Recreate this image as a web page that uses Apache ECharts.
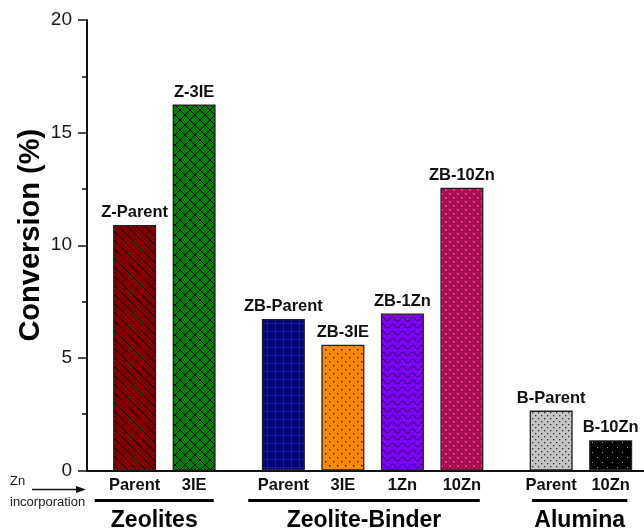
<!DOCTYPE html>
<html>
<head>
<meta charset="utf-8">
<script src="https://cdn.jsdelivr.net/npm/echarts@6/dist/echarts.min.js"></script>
<style>
  html, body { margin: 0; padding: 0; background: #fff; }
  #chart { width: 644px; height: 529px; }
</style>
</head>
<body>
<div id="chart"></div>
<script>
// data
var groups = ['Zeolites', 'Zeolite-Binder', 'Alumina'];
var categories = ['Parent', '3IE', 'Parent', '3IE', '1Zn', '10Zn', 'Parent', '10Zn'];
var barNames = ['Z-Parent', 'Z-3IE', 'ZB-Parent', 'ZB-3IE', 'ZB-1Zn', 'ZB-10Zn', 'B-Parent', 'B-10Zn'];
var conversion = [10.9, 16.25, 6.73, 5.58, 6.97, 12.55, 2.66, 1.34];
var yTicks = [0, 5, 10, 15, 20];

// layout: slot position of each bar and span of each group underline
var slots = [1, 2, 3.5, 4.5, 5.5, 6.5, 8, 9];
var groupSpan = [[0.33, 2.33], [2.91, 6.8], [7.68, 9.28]];

var FONT = 'Liberation Sans, Arial, sans-serif';

// canvas patterns for the bar fills
function makePattern(w, h, bg, draw) {
	var c = document.createElement('canvas');
	c.width = w; c.height = h;
	var ctx = c.getContext('2d');
	ctx.fillStyle = bg;
	ctx.fillRect(0, 0, w, h);
	draw(ctx, w, h);
	return { image: c, repeat: 'repeat' };
}
function dots(ctx, pts, col, r) {
	ctx.fillStyle = col;
	pts.forEach(function (p) { ctx.fillRect(p[0], p[1], r, r); });
}

var patterns = [
	// diagonal hatch
	makePattern(9, 9, '#800000', function (ctx, w, h) {
		ctx.strokeStyle = '#000'; ctx.lineWidth = 1;
		ctx.beginPath();
		ctx.moveTo(-1, -1); ctx.lineTo(w + 1, h + 1);
		ctx.moveTo(-1, h - 1); ctx.lineTo(1, h + 1);
		ctx.moveTo(w - 1, -1); ctx.lineTo(w + 1, 1);
		ctx.stroke();
	}),
	// cross hatch
	makePattern(10, 10, '#008000', function (ctx, w, h) {
		ctx.strokeStyle = '#000'; ctx.lineWidth = 1;
		ctx.beginPath();
		ctx.moveTo(0, 0); ctx.lineTo(w, h);
		ctx.moveTo(w, 0); ctx.lineTo(0, h);
		ctx.stroke();
	}),
	// fine blue grid
	makePattern(8, 8, '#00006a', function (ctx, w, h) {
		ctx.fillStyle = '#0c0c90';
		for (var i = 0; i < w; i += 2) for (var j = 0; j < h; j += 2) if ((i + j) % 4 === 0) ctx.fillRect(i, j, 1, 1);
		ctx.fillStyle = '#1616b8';
		ctx.fillRect(0, 3, w, 1);
		ctx.fillRect(3, 0, 1, h);
	}),
	// orange dots
	makePattern(8, 8, '#ff8a00', function (ctx) {
		dots(ctx, [[1, 1], [5, 5]], '#3a2000', 1.5);
	}),
	// purple waves
	makePattern(10, 7, '#8000ff', function (ctx, w) {
		ctx.strokeStyle = '#3c0070'; ctx.lineWidth = 1.2;
		ctx.beginPath();
		ctx.moveTo(0, 4);
		ctx.quadraticCurveTo(w / 4, 0, w / 2, 4);
		ctx.quadraticCurveTo(3 * w / 4, 8, w, 4);
		ctx.stroke();
	}),
	// crimson check with pink dots
	makePattern(8, 8, '#9c104c', function (ctx, w, h) {
		ctx.fillStyle = '#c8206a';
		for (var i = 0; i < w; i += 2) for (var j = 0; j < h; j += 2) if ((i + j) % 4 === 0) ctx.fillRect(i, j, 1, 1);
		dots(ctx, [[1, 1], [5, 5]], '#ff2a8e', 2);
	}),
	// grey dots
	makePattern(6, 6, '#c4c4c4', function (ctx) {
		dots(ctx, [[1, 1], [4, 4]], '#303030', 1.3);
	}),
	// black with sparse dots
	makePattern(10, 10, '#000', function (ctx) {
		dots(ctx, [[2, 2], [7, 7]], '#9a9a9a', 1);
	})
];

var barData = conversion.map(function (v, i) {
	return { value: [slots[i], v], itemStyle: { color: patterns[i] } };
});

var chart = echarts.init(document.getElementById('chart'));

var option = {
	animation: false,
	backgroundColor: '#fff',
	grid: { left: 87, top: 20, right: 0, bottom: 58.5 },
	xAxis: [{
		type: 'value', min: 0.2, max: 9.56,
		axisLine: { show: true, onZero: false, lineStyle: { color: '#111', width: 2 } },
		axisTick: { show: false }, axisLabel: { show: false }, splitLine: { show: false }
	}, {
		type: 'value', position: 'top', min: 0.2, max: 9.56,
		axisLine: { show: true, lineStyle: { color: '#111', width: 2 } },
		axisTick: { show: false }, axisLabel: { show: false }, splitLine: { show: false }
	}],
	yAxis: {
		type: 'value', min: yTicks[0], max: yTicks[yTicks.length - 1], interval: 5,
		name: 'Conversion (%)', nameLocation: 'middle', nameGap: 42, nameMoveOverlap: false,
		nameTextStyle: { fontFamily: FONT, fontSize: 29, fontWeight: 'bold', color: '#000', padding: [0, 0, 0, 20] },
		axisLine: { show: true, lineStyle: { color: '#111', width: 2 } },
		axisTick: { show: true, inside: false, length: 9, lineStyle: { color: '#111', width: 1.5 } },
		minorTick: { show: true, splitNumber: 2, length: 5, lineStyle: { color: '#111', width: 1.5 } },
		axisLabel: { fontFamily: FONT, fontSize: 19, color: '#1a1a1a', margin: 15 },
		splitLine: { show: false }
	},
	series: [{
		type: 'bar',
		barWidth: 43,
		data: barData,
		itemStyle: { borderColor: '#222', borderWidth: 1.3 },
		label: {
			show: true, position: 'top', distance: 4,
			fontFamily: FONT, fontSize: 16.5, fontWeight: 'bold', color: '#111',
			formatter: function (p) { return barNames[p.dataIndex]; }
		}
	}]
};
chart.setOption(option);

// category and group annotations below the axis
function px(x, y) { return chart.convertToPixel({ xAxisIndex: 0, yAxisIndex: 0 }, [x, y]); }
var axisY = px(0, 0)[1];
var leftX = px(0.2, 0)[0];
var gfx = [];
categories.forEach(function (c, i) {
	gfx.push({
		type: 'text', x: px(slots[i], 0)[0], y: axisY + 15,
		style: { text: c, fontFamily: FONT, fontSize: 16.5, fontWeight: 'bold', fill: '#111', align: 'center', verticalAlign: 'middle' }
	});
});
groups.forEach(function (g, i) {
	var x1 = px(groupSpan[i][0], 0)[0], x2 = px(groupSpan[i][1], 0)[0];
	gfx.push({
		type: 'line', shape: { x1: x1, y1: axisY + 30, x2: x2, y2: axisY + 30 },
		style: { stroke: '#000', lineWidth: 3 }
	});
	gfx.push({
		type: 'text', x: (x1 + x2) / 2, y: axisY + 50,
		style: { text: g, fontFamily: FONT, fontSize: 23, fontWeight: 'bold', fill: '#000', align: 'center', verticalAlign: 'middle' }
	});
});
gfx.push({
	type: 'text', x: 10, y: axisY + 11,
	style: { text: 'Zn', fontFamily: FONT, fontSize: 13, fill: '#222', verticalAlign: 'middle' }
});
gfx.push({
	type: 'text', x: 10, y: axisY + 32,
	style: { text: 'incorporation', fontFamily: FONT, fontSize: 13, fill: '#222', verticalAlign: 'middle' }
});
gfx.push({
	type: 'line', shape: { x1: 32, y1: axisY + 19, x2: leftX - 8, y2: axisY + 19 },
	style: { stroke: '#111', lineWidth: 1.3 }
});
gfx.push({
	type: 'polygon', shape: { points: [[leftX - 1, axisY + 19], [leftX - 11, axisY + 15.5], [leftX - 11, axisY + 22.5]] },
	style: { fill: '#111' }
});
chart.setOption({ graphic: gfx });
</script>
</body>
</html>
